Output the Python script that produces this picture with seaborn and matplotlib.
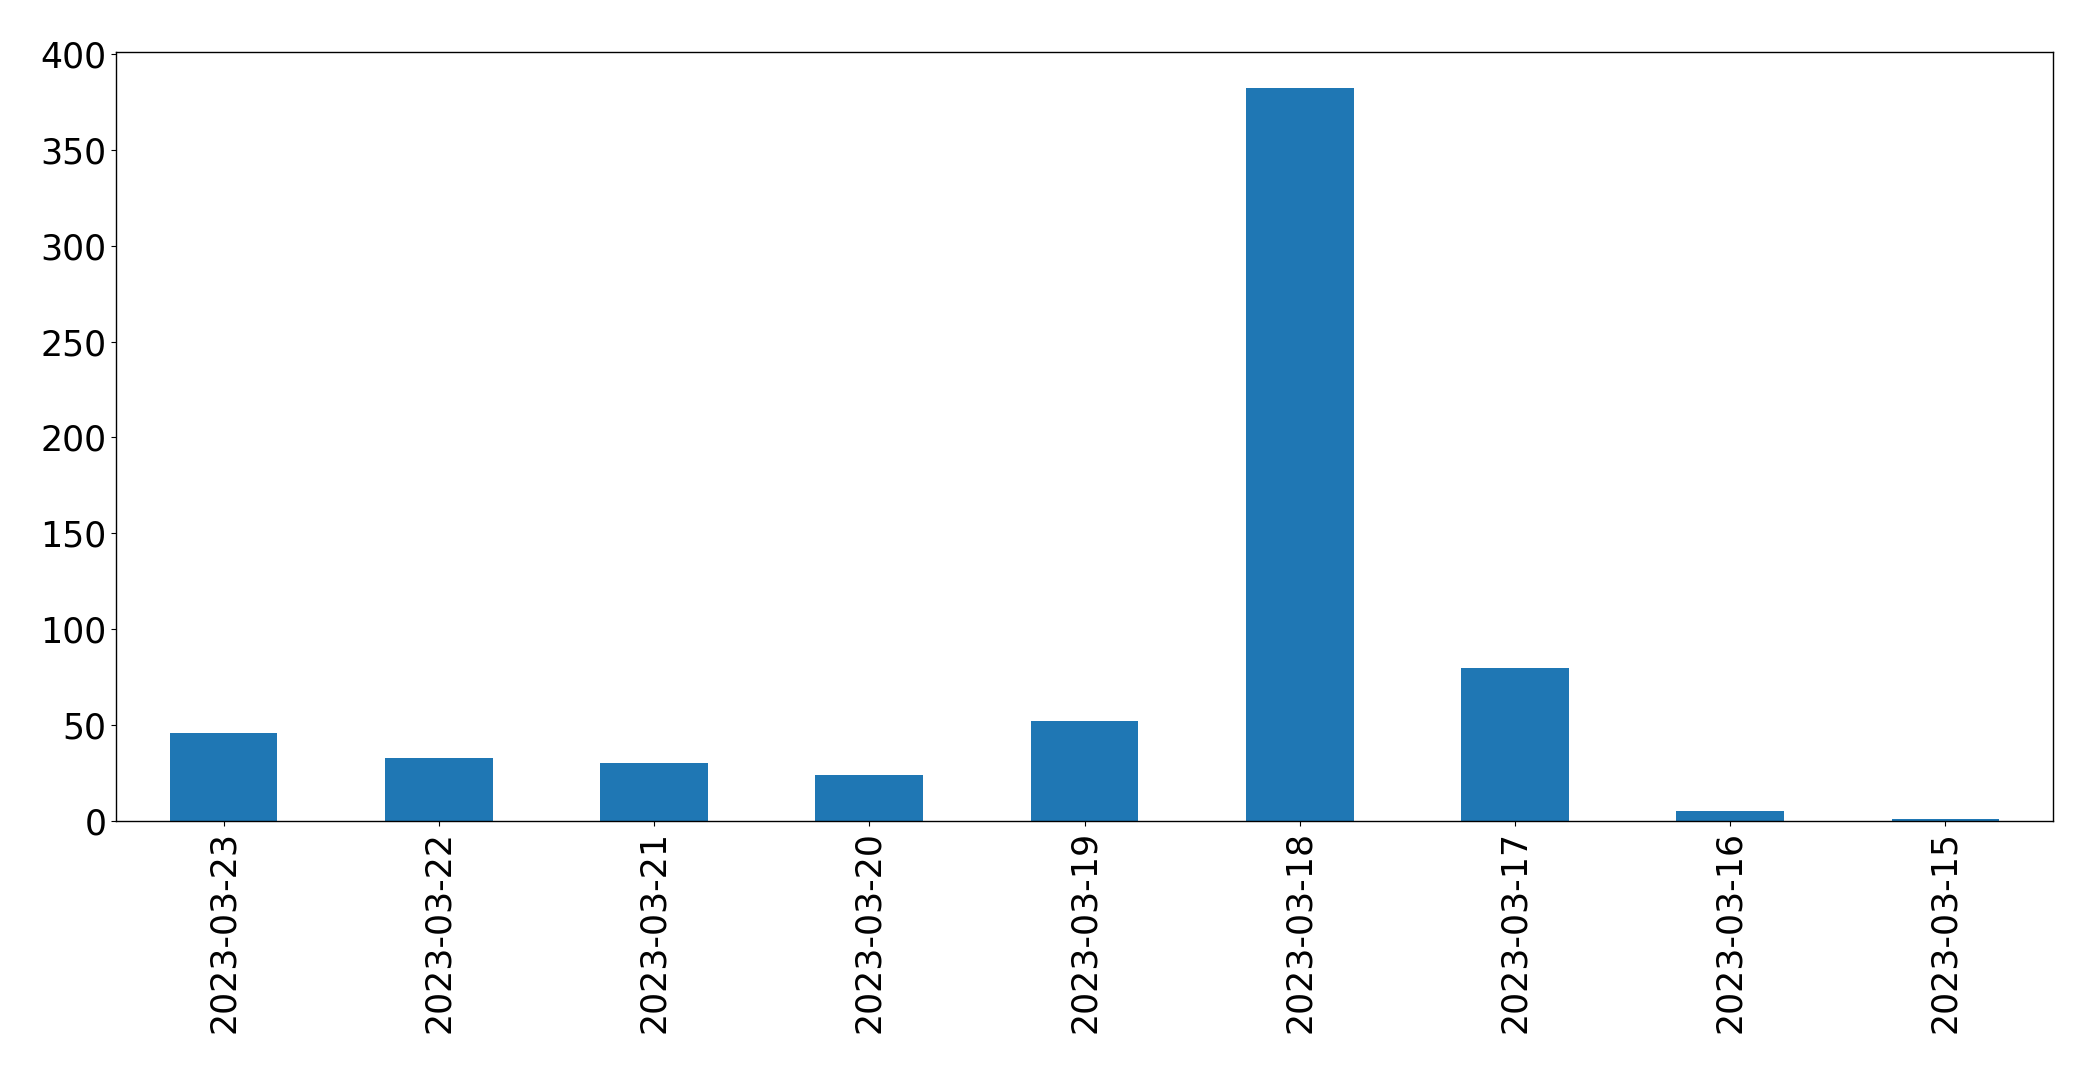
import matplotlib
matplotlib.use("Agg")
import matplotlib.pyplot as plt
import seaborn as sns
import pandas as pd

dates = ["2023-03-23", "2023-03-22", "2023-03-21", "2023-03-20", "2023-03-19",
         "2023-03-18", "2023-03-17", "2023-03-16", "2023-03-15"]
counts = [46, 33, 30, 24, 52, 382, 80, 5, 1]

df = pd.DataFrame({"date": dates, "count": counts})

fig = plt.figure(figsize=(20.93, 10.73), dpi=100)
ax = fig.add_axes([116 / 2093, 1 - 821 / 1073, (2053 - 116) / 2093, (821 - 51.7) / 1073])

sns.barplot(data=df, x="date", y="count", order=dates, color="#1f77b4",
            saturation=1, width=0.5, ax=ax)

ax.set_xlim(-0.5, len(dates) - 0.5)
ax.set_ylim(0, max(counts) * 1.05)
ax.set_xlabel("")
ax.set_ylabel("")
ax.tick_params(axis="both", labelsize=25)
ax.tick_params(axis="x", labelrotation=90)
for s in ax.spines.values():
    s.set_visible(True)
    s.set_color("black")
    s.set_linewidth(1.0)

fig.savefig("out.png", dpi=100)
